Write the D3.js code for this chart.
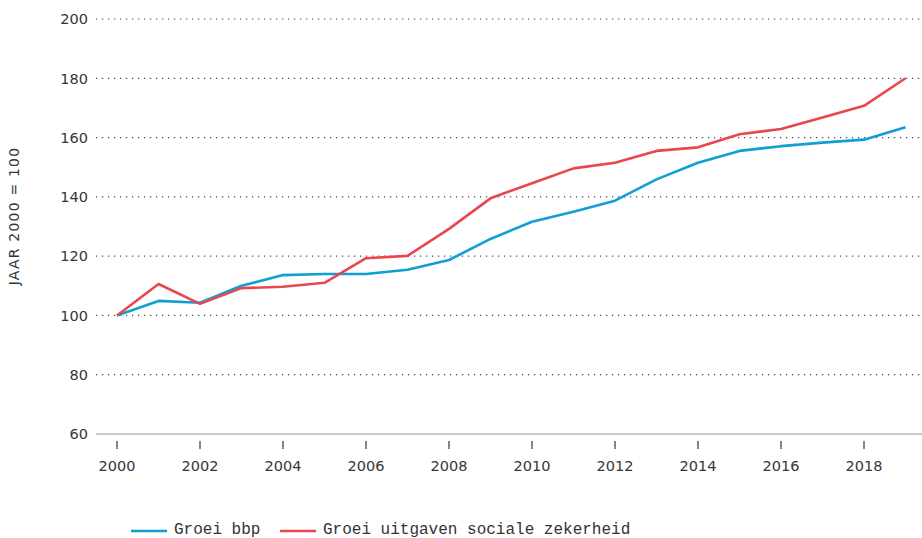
<!DOCTYPE html>
<html>
<head>
<meta charset="utf-8">
<script src="https://cdn.jsdelivr.net/npm/d3@7"></script>
<style>
  html, body { margin: 0; padding: 0; background: #fff; }
  svg { display: block; }
</style>
</head>
<body>
<svg id="chart" width="922" height="538"></svg>
<script>
// Index, year 2000 = 100
const years = [2000, 2001, 2002, 2003, 2004, 2005, 2006, 2007, 2008, 2009,
               2010, 2011, 2012, 2013, 2014, 2015, 2016, 2017, 2018, 2019];
const groeiBbp = [100, 104.9, 104.3, 110.0, 113.6, 114.0, 114.0, 115.4, 118.7, 125.8,
                  131.6, 135.0, 138.7, 145.9, 151.5, 155.5, 157.1, 158.3, 159.3, 163.5];
const groeiSociaal = [100, 110.6, 103.9, 109.2, 109.7, 111.0, 119.3, 120.1, 129.2, 139.5,
                      144.6, 149.6, 151.5, 155.5, 156.7, 161.1, 162.9, 166.8, 170.7, 180.0];
const yTicks = [60, 80, 100, 120, 140, 160, 180, 200];
const xTicks = [2000, 2002, 2004, 2006, 2008, 2010, 2012, 2014, 2016, 2018];
const seriesNames = ["Groei bbp", "Groei uitgaven sociale zekerheid"];
const seriesColors = ["#0f9fd3", "#e8474f"];
const yLabel = "JAAR 2000 = 100";

const svg = d3.select("#chart");
const tickFont = "'DejaVu Sans', sans-serif";
const monoFont = "'Liberation Mono', 'DejaVu Sans Mono', monospace";

const x = d3.scaleLinear().domain([2000, 2019]).range([117, 905.5]);
const y = d3.scaleLinear().domain([60, 200]).range([434, 19]);

// dotted horizontal gridlines
svg.append("g")
  .selectAll("line")
  .data(yTicks.filter(d => d > 60))
  .join("line")
  .attr("x1", 96).attr("x2", 922)
  .attr("y1", d => y(d)).attr("y2", d => y(d))
  .attr("stroke", "#444")
  .attr("stroke-width", 1.2)
  .attr("stroke-dasharray", "1.2,4.8");

// baseline
svg.append("line")
  .attr("x1", 96).attr("x2", 922)
  .attr("y1", y(60)).attr("y2", y(60))
  .attr("stroke", "#b8b8b0")
  .attr("stroke-width", 1.5);

// y tick labels
svg.append("g")
  .selectAll("text")
  .data(yTicks)
  .join("text")
  .attr("x", 88)
  .attr("y", d => y(d))
  .attr("dy", "0.36em")
  .attr("text-anchor", "end")
  .attr("font-family", tickFont)
  .attr("font-size", 14.5)
  .attr("fill", "#363636")
  .text(d => d);

// x axis ticks and labels
const xg = svg.append("g");
xg.selectAll("line")
  .data(xTicks)
  .join("line")
  .attr("x1", d => x(d)).attr("x2", d => x(d))
  .attr("y1", 441).attr("y2", 449)
  .attr("stroke", "#333")
  .attr("stroke-width", 1.2);
xg.selectAll("text")
  .data(xTicks)
  .join("text")
  .attr("x", d => x(d))
  .attr("y", 466)
  .attr("dy", "0.36em")
  .attr("text-anchor", "middle")
  .attr("font-family", tickFont)
  .attr("font-size", 14.5)
  .attr("fill", "#363636")
  .text(d => d);

// y axis title
svg.append("text")
  .attr("transform", "translate(19,216) rotate(-90)")
  .attr("text-anchor", "middle")
  .attr("font-family", tickFont)
  .attr("font-size", 14)
  .attr("letter-spacing", "1.2px")
  .attr("fill", "#363636")
  .text(yLabel);

// lines
const line = d3.line().x((d, i) => x(years[i])).y(d => y(d));
[groeiBbp, groeiSociaal].forEach((vals, k) => {
  svg.append("path")
    .datum(vals)
    .attr("d", line)
    .attr("fill", "none")
    .attr("stroke", seriesColors[k])
    .attr("stroke-width", 2.6)
    .attr("stroke-linejoin", "round");
});

// legend
const legendX = [131, 280];
const lg = svg.append("g");
seriesNames.forEach((name, k) => {
  lg.append("line")
    .attr("x1", legendX[k]).attr("x2", legendX[k] + 36)
    .attr("y1", 531).attr("y2", 531)
    .attr("stroke", seriesColors[k])
    .attr("stroke-width", 2.6);
  lg.append("text")
    .attr("x", legendX[k] + 43)
    .attr("y", 534)
    .attr("font-family", monoFont)
    .attr("font-size", 16)
    .attr("fill", "#333")
    .text(name);
});
</script>
</body>
</html>
